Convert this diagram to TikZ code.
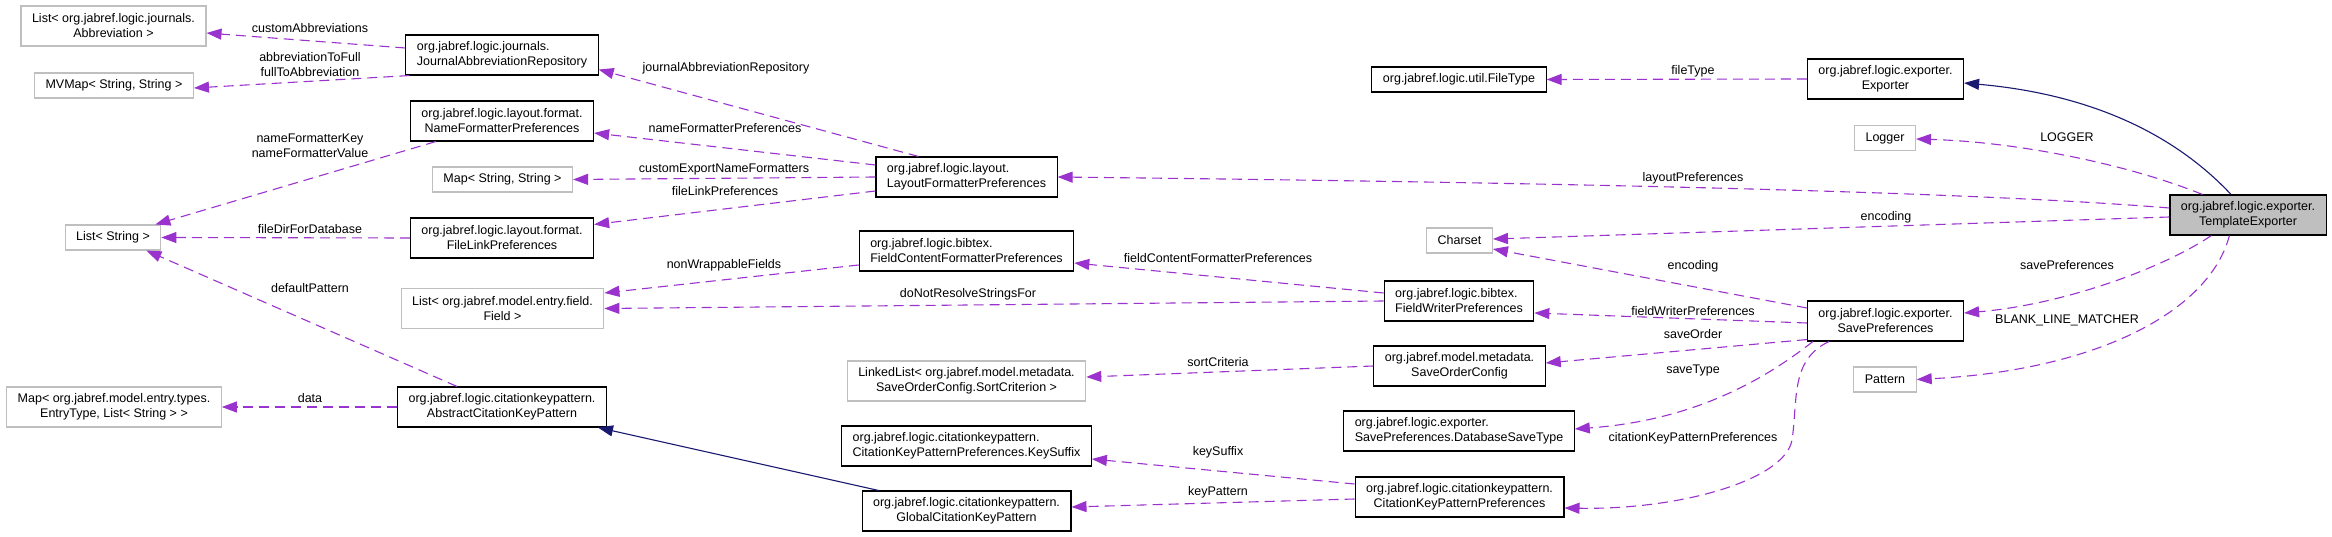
\documentclass[tikz,border=0pt]{standalone}
\usepackage{fontspec}
\setmainfont{Liberation Sans}
\usetikzlibrary{arrows.meta,calc}
\definecolor{usecol}{HTML}{9A32CD}
\definecolor{inhcol}{HTML}{191970}
\definecolor{extgray}{HTML}{BFBFBF}

\begin{document}
\begin{tikzpicture}[x=1pt,y=-1pt,
		font=\fontsize{12.5}{15}\selectfont,
		cls/.style={draw=black,line width=1.1pt,fill=white,align=center,inner xsep=11pt,inner ysep=2pt,minimum height=40pt},
		ext/.style={cls,draw=extgray,minimum height=25pt},
		ext2/.style={cls,draw=extgray},
		uses/.style={draw=usecol,line width=1.1pt,dash pattern=on 10pt off 6pt,-{Triangle[length=15pt,width=11pt]}},
		inh/.style={draw=inhcol,line width=1.1pt,-{Triangle[length=15pt,width=11pt]}},
		lbl/.style={inner sep=0pt,align=center}]
			\useasboundingbox (0,0) rectangle (2332,537);
			% right column
			\node[cls,fill=extgray] (tmplexp) at (2248,215) {org.jabref.logic.exporter.\\TemplateExporter};
			\node[cls] (exporter) at (1885.5,79) {org.jabref.logic.exporter.\\Exporter};
			\node[ext] (logger) at (1885,138) {Logger};
			\node[cls] (savepref) at (1885.5,321) {org.jabref.logic.exporter.\\SavePreferences};
			\node[ext] (pattern) at (1885,379.5) {Pattern};
			% fourth column
			\node[cls,minimum height=25pt] (filetype) at (1459,79.5) {org.jabref.logic.util.FileType};
			\node[ext] (charset) at (1459.5,240.5) {Charset};
			\node[cls,align=left] (fieldwriter) at (1459,301) {org.jabref.logic.bibtex.\\FieldWriterPreferences};
			\node[cls] (saveorder) at (1459.5,366) {org.jabref.model.metadata.\\SaveOrderConfig};
			\node[cls,align=left] (dbsavetype) at (1459,431) {org.jabref.logic.exporter.\\SavePreferences.DatabaseSaveType};
			\node[cls] (ckpprefs) at (1459.5,497) {org.jabref.logic.citationkeypattern.\\CitationKeyPatternPreferences};
			% third column
			\node[cls,align=left] (layoutfmt) at (966.5,177) {org.jabref.logic.layout.\\LayoutFormatterPreferences};
			\node[cls,align=left] (fieldcontent) at (966.5,251) {org.jabref.logic.bibtex.\\FieldContentFormatterPreferences};
			\node[ext2] (linkedlist) at (966.5,381) {LinkedList< org.jabref.model.metadata.\\SaveOrderConfig.SortCriterion >};
			\node[cls,align=left] (keysuffix) at (966.5,446) {org.jabref.logic.citationkeypattern.\\CitationKeyPatternPreferences.KeySuffix};
			\node[cls] (globalckp) at (966.5,511) {org.jabref.logic.citationkeypattern.\\GlobalCitationKeyPattern};
			% second column
			\node[cls,align=left] (journalrepo) at (502,55) {org.jabref.logic.journals.\\JournalAbbreviationRepository};
			\node[cls] (namefmt) at (502,121) {org.jabref.logic.layout.format.\\NameFormatterPreferences};
			\node[ext] (mapss) at (502.5,179.5) {Map< String, String >};
			\node[cls] (filelink) at (502,238) {org.jabref.logic.layout.format.\\FileLinkPreferences};
			\node[ext2] (listfield) at (502.5,308.5) {List< org.jabref.model.entry.field.\\Field >};
			\node[cls] (abstractckp) at (502,407) {org.jabref.logic.citationkeypattern.\\AbstractCitationKeyPattern};
			% first column
			\node[ext2] (listabbr) at (113.5,26) {List< org.jabref.logic.journals.\\Abbreviation >};
			\node[ext] (mvmap) at (114,85.5) {MVMap< String, String >};
			\node[ext] (liststr) at (113,237.5) {List< String >};
			\node[ext2] (mapentry) at (114,407) {Map< org.jabref.model.entry.types.\\EntryType, List< String > >};

			% left part
			\draw[uses] ($(journalrepo.west)+(0,-7)$) -- ($(listabbr.east)+(0,7)$);
			\draw[uses] ($(journalrepo.south west)+(4,0)$) -- ($(mvmap.east)+(0,2.5)$);
			\draw[uses] ($(namefmt.south west)+(26,0)$) -- ($(liststr.north east)+(-6,0)$);
			\draw[uses] (filelink.west) -- (liststr.east);
			\draw[uses] ($(abstractckp.north west)+(60,0)$) -- ($(liststr.south east)+(-15,0)$);
			\draw[uses] (abstractckp.west) -- (mapentry.east);
			\draw[inh] ($(globalckp.north west)+(17,0)$) -- ($(abstractckp.south east)+(-9,0)$);
			\node[lbl] (lcustabbr) at (310,28) {customAbbreviations};
			\node[lbl] (labbrfull) at (310,65) {abbreviationToFull\\fullToAbbreviation};
			\node[lbl] (lnamekey) at (310,146) {nameFormatterKey\\nameFormatterValue};
			\node[lbl] (lfiledir) at (310,229) {fileDirForDatabase};
			\node[lbl] (ldefpat) at (310,288) {defaultPattern};
			\node[lbl] (ldata) at (310,398) {data};

			% middle part
			\draw[uses] ($(layoutfmt.north west)+(43,0)$) -- ($(journalrepo.south east)+(0,-6)$);
			\draw[uses] ($(layoutfmt.west)+(0,-12)$) -- ($(namefmt.east)+(0,12)$);
			\draw[uses] (layoutfmt.west) -- (mapss.east);
			\draw[uses] ($(layoutfmt.west)+(0,14)$) -- ($(filelink.north east)+(0,7)$);
			\draw[uses] ($(fieldcontent.west)+(0,14)$) -- ($(listfield.north east)+(0,5)$);
			\draw[uses] (fieldwriter.west) -- (listfield.east);
			\draw[uses] ($(fieldwriter.west)+(0,-8)$) -- ($(fieldcontent.east)+(0,12)$);
			\draw[uses] (saveorder.west) -- ($(linkedlist.east)+(0,-4)$);
			\draw[uses] ($(ckpprefs.west)+(0,-13)$) -- ($(keysuffix.east)+(0,13)$);
			\draw[uses] ($(ckpprefs.west)+(0,2)$) -- ($(globalckp.east)+(0,-4)$);
			\node[lbl] (ljournal) at (726,68) {journalAbbreviationRepository};
			\node[lbl] (lnamefmt) at (725,128) {nameFormatterPreferences};
			\node[lbl] (lcustexp) at (724,169) {customExportNameFormatters};
			\node[lbl] (lfilelink) at (725,191) {fileLinkPreferences};
			\node[lbl] (lnonwrap) at (724,265) {nonWrappableFields};
			\node[lbl] (ldonot) at (968,294) {doNotResolveStringsFor};
			\node[lbl] (lfieldcont) at (1218,258) {fieldContentFormatterPreferences};
			\node[lbl] (lsortcrit) at (1218,362) {sortCriteria};
			\node[lbl] (lkeysuffix) at (1218,452) {keySuffix};
			\node[lbl] (lkeypat) at (1218,492) {keyPattern};

			% save preferences
			\draw[uses] (exporter.west) -- (filetype.east);
			\draw[uses] ($(savepref.west)+(0,2)$) -- ($(fieldwriter.east)+(0,12)$);
			\draw[uses] ($(savepref.west)+(0,-13)$) -- ($(charset.east)+(0,8.5)$);
			\draw[uses] ($(savepref.south west)+(0,-2)$) -- ($(saveorder.east)+(0,-3)$);
			\draw[uses] ($(savepref.south west)+(6,0)$) .. controls (1770,375) and (1700,420) .. ($(dbsavetype.east)+(0,-2)$);
			\draw[uses] ($(savepref.south west)+(22,0)$) .. controls (1790,360) and (1798,400) .. (1792,440)
				.. controls (1785,480) and (1680,510) .. ($(ckpprefs.east)+(0,11)$);
			\node[lbl] (lfiletype) at (1693,71) {fileType};
			\node[lbl] (llayout) at (1693,178) {layoutPreferences};
			\node[lbl] (lenc) at (1693,266) {encoding};
			\node[lbl] (lfieldwr) at (1693,311) {fieldWriterPreferences};
			\node[lbl] (lsaveord) at (1693,334) {saveOrder};
			\node[lbl] (lsavetype) at (1693,370) {saveType};
			\node[lbl] (lckp) at (1693,438) {citationKeyPatternPreferences};

			% template exporter
			\draw[inh] ($(tmplexp.north)+(-17,0)$) .. controls (2180,140) and (2100,95) .. ($(exporter.east)+(0,4)$);
			\draw[uses] ($(tmplexp.north west)+(33,0)$) .. controls (2130,165) and (2020,142) .. ($(logger.east)+(0,1)$);
			\draw[uses] ($(tmplexp.west)+(0,-7)$) .. controls (1950,190) and (1500,182) .. (layoutfmt.east);
			\draw[uses] ($(tmplexp.west)+(0,2)$) -- ($(charset.east)+(0,-1.5)$);
			\draw[uses] ($(tmplexp.south west)+(42,0)$) .. controls (2160,270) and (2060,305) .. ($(savepref.east)+(0,-8)$);
			\draw[uses] ($(tmplexp.south west)+(60,0)$) .. controls (2210,310) and (2100,370) .. (pattern.east);
			\node[lbl] (lenc2) at (1886,217) {encoding};
			\node[lbl] (llogger) at (2067,137) {LOGGER};
			\node[lbl] (lsavepref) at (2067,265) {savePreferences};
			\node[lbl] (lblank) at (2067,320) {BLANK\_LINE\_MATCHER};
		\end{tikzpicture}
\end{document}
